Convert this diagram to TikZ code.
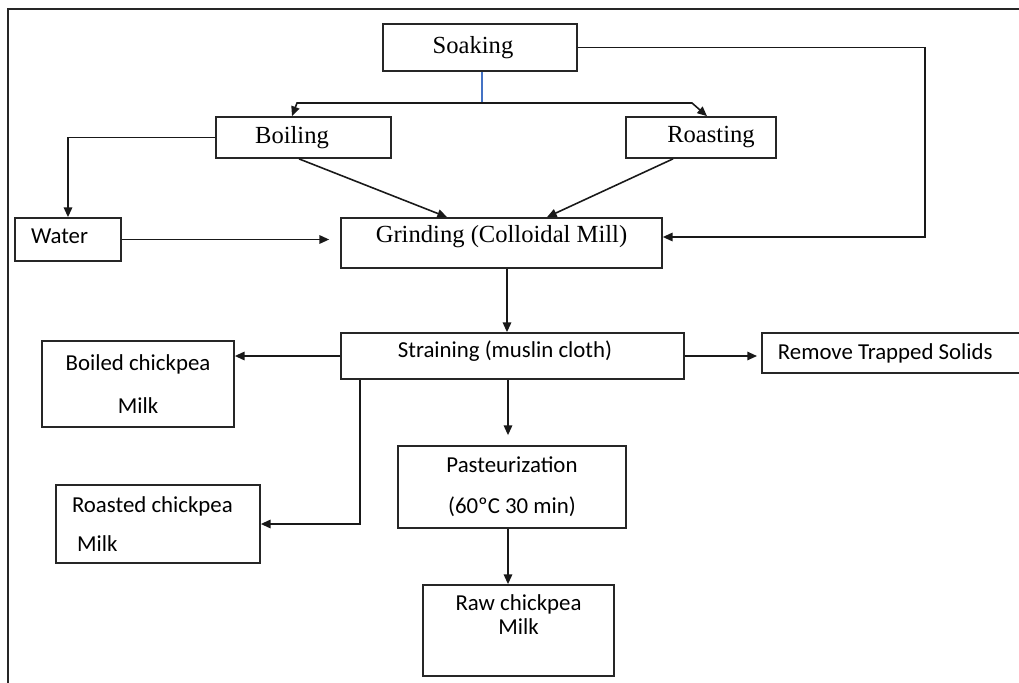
\documentclass[tikz,border=0pt]{standalone}
\usepackage{fontspec}
\setmainfont{Liberation Serif}
\newfontfamily\carlito{Carlito}
\usetikzlibrary{arrows.meta, positioning}
\definecolor{soakblue}{RGB}{68,114,196}

\tikzset{
  box/.style={draw=black!85, line width=1pt, inner sep=0pt, align=center},
  serifbox/.style={box, font=\fontsize{14}{16.8}\selectfont},
  sansbox/.style={box, font=\carlito\fontsize{13}{15.6}\selectfont},
  arr/.style={draw=black!90, line width=0.9pt, -{Triangle[length=5.5pt,width=4.8pt]}},
}

\begin{document}
\begin{tikzpicture}[x=0.02cm, y=-0.02cm]
\useasboundingbox (0,0) rectangle (1019,683);
\clip (0,0) rectangle (1019,683);
% outer frame
\draw[black!85, line width=1.2pt] (1019,9) -- (8,9) -- (8,683);

% serif boxes
\node[serifbox, minimum width=38.8mm, minimum height=9.4mm] (soak) at (480,47.5) {Soaking\hspace*{2.8mm}};
\node[serifbox, minimum width=35mm, minimum height=8.2mm] (boil) at (303.5,137.5) {Boiling\hspace*{4.6mm}};
\node[serifbox, minimum width=30mm, minimum height=8.2mm] (roast) at (701,137.5) {\hspace*{4mm}Roasting};
\node[serifbox, minimum width=64.2mm, minimum height=10mm, text depth=10pt] (grind) at (501.5,243) {Grinding (Colloidal Mill)};

% sans boxes
\node[sansbox, minimum width=21.2mm, minimum height=8.6mm, text width=14.8mm, align=flush left, text depth=4pt] (water) at (68,239.5) {Water};
\node[sansbox, minimum width=68.6mm, minimum height=9.2mm, text depth=7.5pt] (strain) at (512.5,356) {Straining (muslin cloth)\hspace*{3mm}};
\node[sansbox, anchor=west, minimum height=8mm, text width=55mm, inner xsep=3.2mm, align=flush left] (remove) at (761,353) {Remove Trapped Solids};
\node[sansbox, minimum width=38.4mm, minimum height=17.2mm] (boiled) at (138,384) {Boiled chickpea\\[8.8pt]Milk};
\node[sansbox, minimum width=40.8mm, minimum height=15.6mm, text width=34.4mm, align=flush left] (roasted) at (158,524) {Roasted chickpea\\[7pt]\hspace*{1mm}Milk};
\node[sansbox, minimum width=45.7mm, minimum height=16.4mm] (past) at (512,487) {Pasteurization\\[7.6pt](60ºC 30 min)};
\node[sansbox, minimum width=38.2mm, minimum height=18.2mm] (raw) at (518.5,630.5) {Raw chickpea\\[-2pt]Milk\\[-2pt]\strut};

% bend points
\coordinate (split) at (482,103);
\coordinate (bl) at (297,103);
\coordinate (br) at (692,103);
\coordinate (rc) at (925,237);

% connectors
\draw[soakblue, line width=0.8pt] (split |- soak.south) -- (split);
\draw[arr] (split) -- (bl) -- ([xshift=-2.3mm]boil.north);
\draw[arr] (split) -- (br) -- ([xshift=1.2mm]roast.north);
\draw[arr] (soak.east) -| (rc) -- (rc -| grind.east);
\draw[arr] (boil.west) -| (water.north);
\draw[arr, shorten >=2.2mm] (water.east) -- (water.east -| grind.west);
\draw[arr] ([xshift=-0.9mm]boil.south) -- ([xshift=-10.9mm]grind.north);
\draw[arr] ([xshift=-5.6mm]roast.south) -- ([xshift=9.1mm]grind.north);
\draw[arr] ([xshift=1.1mm]grind.south) -- ([xshift=1.1mm]grind.south |- strain.north);
\draw[arr] (strain.west) -- (strain.west -| boiled.east);
\draw[arr] ([xshift=4mm]strain.south west) |- (roasted.east);
\draw[arr, shorten >=2mm] ([xshift=-0.9mm]strain.south) -- ([xshift=-0.9mm]strain.south |- past.north);
\draw[arr, shorten >=0.8mm] (strain.east) -- (strain.east -| remove.west);
\draw[arr] ([xshift=-0.8mm]past.south) -- ([xshift=-0.8mm]past.south |- raw.north);
\end{tikzpicture}
\end{document}
